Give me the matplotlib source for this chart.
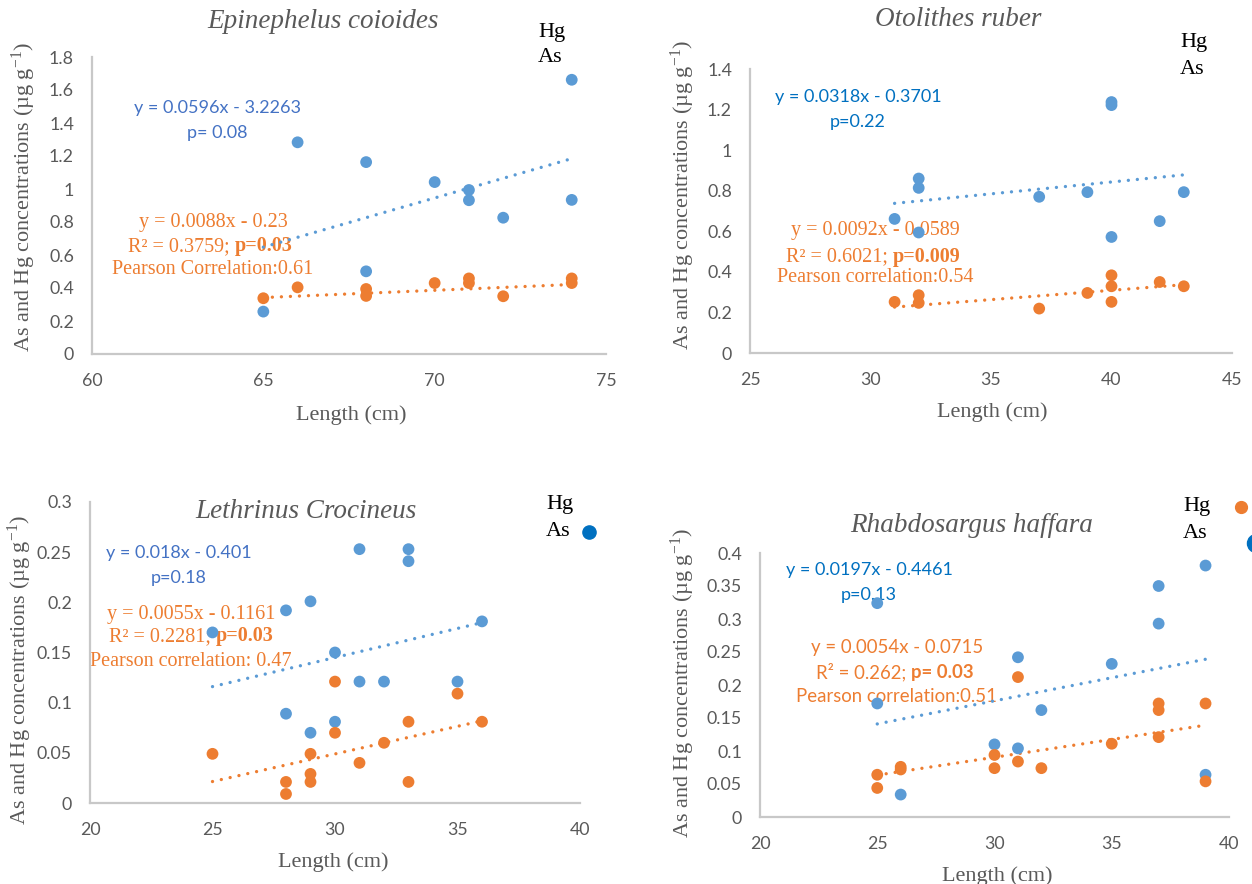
import numpy as np
import matplotlib
matplotlib.use("Agg")
import matplotlib.pyplot as plt
from matplotlib.lines import Line2D

plt.rcParams['mathtext.fontset'] = 'custom'
plt.rcParams['mathtext.rm'] = 'Liberation Serif'
plt.rcParams['mathtext.it'] = 'Liberation Serif:italic'
plt.rcParams['mathtext.bf'] = 'Liberation Serif:bold'

# ---------------- data ----------------
# Epinephelus coioides
p1_len_as = [65, 66, 68, 68, 70, 71, 71, 72, 74, 74]
p1_as = [0.257, 1.283, 1.163, 0.501, 1.042, 0.994, 0.932, 0.826, 1.662, 0.934]
p1_len_hg = [65, 66, 68, 68, 70, 71, 71, 72, 74, 74]
p1_hg = [0.338, 0.404, 0.394, 0.352, 0.430, 0.458, 0.430, 0.350, 0.458, 0.430]

# Otolithes ruber
p2_len_as = [31, 32, 32, 32, 37, 39, 40, 40, 40, 42, 43]
p2_as = [0.661, 0.860, 0.814, 0.594, 0.770, 0.793, 1.237, 1.222, 0.572, 0.650, 0.793]
p2_len_hg = [31, 32, 32, 37, 39, 40, 40, 40, 42, 43]
p2_hg = [0.252, 0.285, 0.247, 0.219, 0.296, 0.383, 0.329, 0.252, 0.350, 0.329]

# Lethrinus Crocineus
p3_len_as = [25, 28, 28, 29, 29, 30, 30, 31, 31, 32, 33, 33, 35, 36]
p3_as = [0.170, 0.192, 0.089, 0.201, 0.070, 0.150, 0.081, 0.253, 0.121, 0.121,
         0.253, 0.241, 0.121, 0.181]
p3_len_hg = [25, 28, 28, 29, 29, 29, 30, 30, 31, 32, 33, 33, 35, 36]
p3_hg = [0.049, 0.021, 0.009, 0.049, 0.029, 0.021, 0.121, 0.070, 0.040, 0.060,
         0.081, 0.021, 0.109, 0.081]

# Rhabdosargus haffara
p4_len_as = [25, 25, 26, 30, 31, 31, 32, 35, 37, 37, 39, 39]
p4_as = [0.324, 0.172, 0.034, 0.110, 0.242, 0.104, 0.162, 0.232, 0.350, 0.293, 0.381, 0.064]
p4_len_hg = [25, 25, 26, 26, 30, 30, 31, 31, 32, 35, 37, 37, 37, 39, 39]
p4_hg = [0.064, 0.044, 0.076, 0.072, 0.094, 0.074, 0.212, 0.084, 0.074, 0.111,
         0.172, 0.162, 0.121, 0.172, 0.054]

# trendlines as drawn in the chart (slope, intercept)
trend_as = [(0.0596, -3.2263), (0.0117, 0.375), (0.0058, -0.029), (0.0070, -0.034)]
trend_hg = [(0.0088, -0.23), (0.0092, -0.0589), (0.0055, -0.1161), (0.0054, -0.0715)]

titles = ["Epinephelus coioides", "Otolithes ruber", "Lethrinus Crocineus", "Rhabdosargus haffara"]
xlims = [(60, 75), (25, 45), (20, 40), (20, 40)]
xticks = [[60, 65, 70, 75], [25, 30, 35, 40, 45], [20, 25, 30, 35, 40], [20, 25, 30, 35, 40]]
ylims = [(0, 1.8), (0, 1.4), (0, 0.3), (0, 0.4)]
ysteps = [0.2, 0.2, 0.05, 0.05]

as_eq = ["y = 0.0596x - 3.2263", "y = 0.0318x - 0.3701", "y = 0.018x - 0.401", "y = 0.0197x - 0.4461"]
as_p = ["p= 0.08", "p=0.22", "p=0.18", "p=0.13"]
hg_eq = ["y = 0.0088x - 0.23", "y = 0.0092x - 0.0589", "y = 0.0055x - 0.1161", "y = 0.0054x - 0.0715"]
hg_r2 = ["R² = 0.3759; ", "R² = 0.6021; ", "R² = 0.2281; ", "R² = 0.262; "]
hg_pb = ["p=0.03", "p=0.009", "p=0.03", "p= 0.03"]
hg_pc = ["Pearson Correlation:0.61", "Pearson correlation:0.54",
         "Pearson correlation: 0.47", "Pearson correlation:0.51"]

datasets = [
    (p1_len_as, p1_as, p1_len_hg, p1_hg),
    (p2_len_as, p2_as, p2_len_hg, p2_hg),
    (p3_len_as, p3_as, p3_len_hg, p3_hg),
    (p4_len_as, p4_as, p4_len_hg, p4_hg),
]

# ---------------- layout (pixels) ----------------
W, H = 1252, 884
fig = plt.figure(figsize=(W / 100, H / 100), dpi=100)

def fx(x):
    return x / W

def fy(y):
    return 1 - y / H

axes_px = [(92, 57, 606, 354), (750, 69, 1232, 353), (90, 502, 580, 803), (760, 553, 1229, 817)]
title_pos = [(323, 22), (958, 19), (306, 511), (972, 525)]
xlabel_pos = [(351, 415), (992, 412), (333, 862), (997, 876)]
ylabel_pos = [(24, 197), (683, 195), (20, 670), (683, 683)]
legend_pos = [(538, 33, 58), (1180, 43, 70), (546, 505, 532), (1183, 507, 534)]
as_text_pos = [(217, 108, 133), (858, 97, 122), (179, 553, 578), (869, 570, 595)]
hg_text_pos = [(213, 223, 247, 235, 269), (875, 231, 257, 893, 278),
               (191, 614, 637, 216, 661), (897, 647, 672, 911, 696)]

BLUE = "#5B9BD5"
ORANGE = "#ED7D31"
GRAY = "#595959"
SPINE = "#C8C8C8"
blue_txt = ["#4472C4", "#0070C0", "#4472C4", "#0070C0"]
SANS = "Lato"
SERIF = "Liberation Serif"

for i in range(4):
    l, t, r, b = axes_px[i]
    ax = fig.add_axes([fx(l), fy(b), (r - l) / W, (b - t) / H])
    xa, ya, xh, yh = datasets[i]
    ax.set_xlim(*xlims[i])
    ax.set_ylim(*ylims[i])
    ax.set_xticks(xticks[i])
    yt = np.round(np.arange(ylims[i][0], ylims[i][1] + 1e-9, ysteps[i]), 3)
    ax.set_yticks(yt)
    ax.set_yticklabels([f"{v:g}" for v in yt])
    ax.set_xticklabels([f"{v:g}" for v in xticks[i]])
    for s in ["top", "right"]:
        ax.spines[s].set_visible(False)
    for s in ["left", "bottom"]:
        ax.spines[s].set_color(SPINE)
        ax.spines[s].set_linewidth(1.6)
    ax.tick_params(axis="both", length=0, labelsize=12.8, labelcolor=GRAY)
    ax.tick_params(axis="x", pad=13.5)
    ax.tick_params(axis="y", pad=13)
    for lab in ax.get_xticklabels() + ax.get_yticklabels():
        lab.set_fontfamily(SANS)
    ax.patch.set_alpha(0)

    # trendlines
    for xs, (k, c), col in [(xa, trend_as[i], BLUE), (xh, trend_hg[i], ORANGE)]:
        xx = np.array([min(xs), max(xs)], float)
        ax.plot(xx, k * xx + c, color=col, lw=2.4, linestyle=(0, (0.01, 2.7)),
                dash_capstyle="round", zorder=2)

    ax.scatter(xa, ya, s=72, color=BLUE, edgecolors="none", zorder=3, clip_on=False)
    ax.scatter(xh, yh, s=72, color=ORANGE, edgecolors="none", zorder=4, clip_on=False)

    # title and axis labels
    ax.text(fx(title_pos[i][0]), fy(title_pos[i][1]), titles[i], transform=fig.transFigure,
            ha="center", va="center", fontsize=19.5, fontstyle="italic", family=SERIF,
            color=GRAY, zorder=1)
    ax.text(fx(xlabel_pos[i][0]), fy(xlabel_pos[i][1]), "Length (cm)", transform=fig.transFigure,
            ha="center", va="center", fontsize=16, family=SERIF, color=GRAY, zorder=1)
    ax.text(fx(ylabel_pos[i][0]), fy(ylabel_pos[i][1]),
            r"As and Hg concentrations (µg g$^{-1}$)", transform=fig.transFigure,
            ha="center", va="center", rotation=90, fontsize=16, family=SERIF,
            color=GRAY, zorder=1)

    # legend texts
    lx, ly1, ly2 = legend_pos[i]
    ax.text(fx(lx), fy(ly1), "Hg", transform=fig.transFigure, ha="left", va="center",
            fontsize=16, family=SERIF, color="black", zorder=1)
    ax.text(fx(lx), fy(ly2), "As", transform=fig.transFigure, ha="left", va="center",
            fontsize=16, family=SERIF, color="black", zorder=1)

    # As equation text
    cx, y1, y2 = as_text_pos[i]
    ax.text(fx(cx), fy(y1), as_eq[i], transform=fig.transFigure, ha="center", va="center",
            fontsize=13, family=SANS, color=blue_txt[i], zorder=1)
    ax.text(fx(cx), fy(y2), as_p[i], transform=fig.transFigure, ha="center", va="center",
            fontsize=13, family=SANS, color=blue_txt[i], zorder=1)

    # Hg equation text
    cx, y1, y2, jx, y3 = hg_text_pos[i]
    fam = SANS if i == 3 else SERIF
    fs = 13.4 if i == 3 else 14.5
    ax.text(fx(cx), fy(y1), hg_eq[i], transform=fig.transFigure, ha="center", va="center",
            fontsize=fs, family=fam, color=ORANGE, zorder=1)
    t1 = ax.text(fx(jx), fy(y2), hg_r2[i], transform=fig.transFigure, ha="right", va="center",
                 fontsize=fs, family=fam, color=ORANGE, zorder=1)
    ax.annotate(hg_pb[i], xy=(1, 0), xycoords=t1, ha="left", va="bottom",
                fontsize=fs, family=fam, color=ORANGE, fontweight="bold", zorder=1)
    ax.text(fx(cx), fy(y3), hg_pc[i], transform=fig.transFigure, ha="center", va="center",
            fontsize=fs, family=fam, color=ORANGE, zorder=1)

# legend markers shown in the lower panels
fig.add_artist(Line2D([fx(589)], [fy(532)], marker="o", markersize=9.5, color="#0070C0",
                      linestyle="none", transform=fig.transFigure))
fig.add_artist(Line2D([fx(1241)], [fy(507)], marker="o", markersize=8.5, color=ORANGE,
                      linestyle="none", transform=fig.transFigure))
fig.add_artist(Line2D([fx(1256)], [fy(543)], marker="o", markersize=13, color="#0070C0",
                      linestyle="none", transform=fig.transFigure))

fig.savefig("out.png", dpi=100)
